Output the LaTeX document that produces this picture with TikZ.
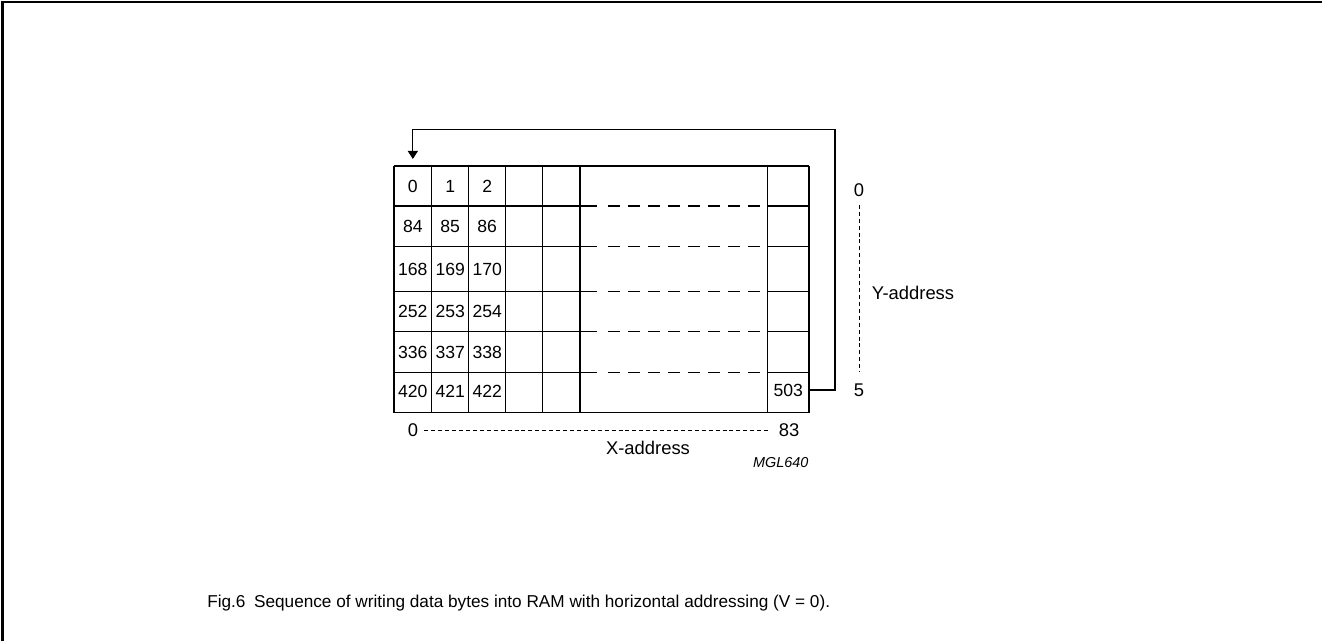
\documentclass[tikz,border=0pt]{standalone}
\usepackage{fontspec}
\setmainfont{Liberation Sans}
\usetikzlibrary{arrows.meta}
\begin{document}
\begin{tikzpicture}[x=0.75pt,y=-0.75pt,
  gridline/.style={line width=0.8pt},
  rowdash/.style={line width=0.8pt,dash pattern=on 9pt off 6pt},
  axisdash/.style={line width=0.6pt,dash pattern=on 3pt off 2.2pt},
  celltxt/.style={inner sep=0pt,font=\fontsize{13.2}{15}\selectfont},
  lbl/.style={inner sep=0pt,font=\fontsize{13.8}{16}\selectfont},
  cellbox/.style={inner sep=0pt,minimum width=28.3pt,minimum height=30pt,font=\fontsize{13.2}{15}\selectfont}]
\useasboundingbox (0,0) rectangle (1322,641);
% frame (left and top only)
\draw[line width=1.5pt] (2.5,641) -- (2.5,2.5) -- (1322,2.5);
% vertical grid lines
\foreach \x in {394,431.7,468.7,505.7,542.7,580,767.7,809}
  \draw[gridline] (\x,166) -- (\x,412.7);
% top and bottom
\draw[gridline] (394,166) -- (809,166);
\draw[gridline] (394,412.7) -- (809,412.7);
% interior rows
\foreach \y in {206,246.7,291.7,331.7,372.3}{
  \draw[gridline] (394,\y) -- (596.7,\y);
  \draw[rowdash] (608,\y) -- (760,\y);
  \draw[gridline] (767.7,\y) -- (809,\y);
}
% cells
\node[cellbox] (c00) at (412.85,186) {0};
\node[celltxt] (c01) at (450.2,186) {1};
\node[celltxt] (c02) at (487.2,186) {2};
\node[celltxt] (c10) at (412.85,226.4) {84};
\node[celltxt] (c11) at (450.2,226.4) {85};
\node[celltxt] (c12) at (487.2,226.4) {86};
\node[celltxt] (c20) at (412.85,269.2) {168};
\node[celltxt] (c21) at (450.2,269.2) {169};
\node[celltxt] (c22) at (487.2,269.2) {170};
\node[celltxt] (c30) at (412.85,311.7) {252};
\node[celltxt] (c31) at (450.2,311.7) {253};
\node[celltxt] (c32) at (487.2,311.7) {254};
\node[celltxt] (c40) at (412.85,352) {336};
\node[celltxt] (c41) at (450.2,352) {337};
\node[celltxt] (c42) at (487.2,352) {338};
\node[celltxt] (c50) at (412.85,391) {420};
\node[celltxt] (c51) at (450.2,391) {421};
\node[celltxt] (c52) at (487.2,391) {422};
\node[cellbox,minimum width=31pt] (c53) at (788.35,390) {503};
% return arrow
\coordinate (tr) at (835,129.3);
\coordinate (tip) at (412.85,159);
\draw[gridline,-{Triangle[length=6pt,width=7.5pt]}] (c53.east) -| (tr) -| (tip);
% X address
\node[lbl] (x0) at (413,430) {0};
\node[lbl] (x83) at (789,430) {83};
\draw[axisdash] (x0.east) ++(6,0) coordinate (xa) -- ([xshift=-7.5pt]x83.west);
\node[lbl] (xaddr) at (648,448) {X-address};
\node[inner sep=0pt,font=\fontsize{10.8}{12}\selectfont\itshape] (mgl) at (780.7,463) {MGL640};
% Y address
\node[lbl] (y0) at (859,190) {0};
\node[lbl] (y5) at (859,390) {5};
\draw[axisdash] ([yshift=-6pt]y0.south) -- ([yshift=9pt]y5.north);
\node[lbl,anchor=west] (yaddr) at (871.7,293) {Y-address};
% caption
\node[inner sep=0pt,anchor=west,font=\fontsize{12.9}{15}\selectfont] (cap) at (207,603) {Fig.6\hspace{0.5em}Sequence of writing data bytes into RAM with horizontal addressing (V = 0).};
\end{tikzpicture}
\end{document}
